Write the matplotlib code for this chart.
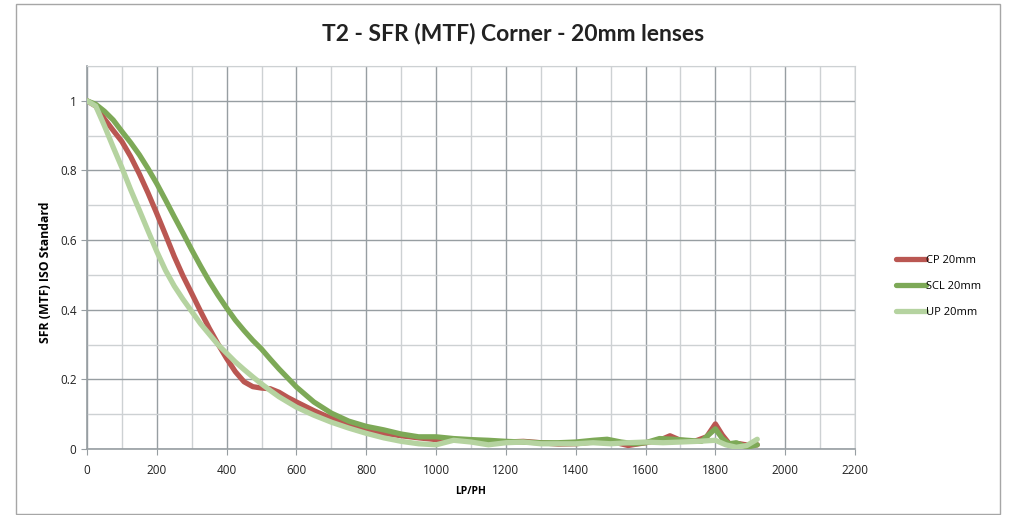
import matplotlib
matplotlib.use("Agg")
import matplotlib.pyplot as plt
from matplotlib.patches import Rectangle
from matplotlib.ticker import MultipleLocator

# LP/PH sample points and SFR values
cp_x = [0, 25, 50, 75, 100, 125, 150, 175, 200, 225, 250, 275, 300, 325, 350, 375,
        400, 425, 450, 475, 500, 525, 550, 575, 600, 650, 700, 750, 800, 850, 900,
        950, 1000, 1050, 1100, 1150, 1200, 1250, 1300, 1350, 1400, 1450, 1500, 1550,
        1600, 1640, 1670, 1700, 1740, 1775, 1800, 1820, 1840, 1870, 1900, 1920]
cp_y = [1.0, 0.985, 0.948, 0.915, 0.883, 0.84, 0.79, 0.735, 0.676, 0.615, 0.553, 0.497,
        0.447, 0.396, 0.347, 0.302, 0.26, 0.222, 0.193, 0.179, 0.175, 0.173, 0.163, 0.148,
        0.135, 0.11, 0.088, 0.068, 0.055, 0.045, 0.038, 0.032, 0.027, 0.025, 0.025,
        0.022, 0.02, 0.022, 0.018, 0.014, 0.015, 0.02, 0.022, 0.01, 0.018, 0.025,
        0.038, 0.025, 0.022, 0.035, 0.072, 0.04, 0.015, 0.015, 0.01, 0.012]

scl_x = [0, 25, 50, 75, 100, 125, 150, 175, 200, 225, 250, 275, 300, 325, 350, 375,
         400, 425, 450, 475, 500, 525, 550, 575, 600, 650, 700, 750, 800, 850, 900,
         950, 1000, 1050, 1100, 1150, 1200, 1250, 1300, 1350, 1400, 1450, 1490, 1530,
         1570, 1600, 1640, 1680, 1720, 1760, 1800, 1820, 1840, 1860, 1890, 1920]
scl_y = [1.0, 0.99, 0.97, 0.945, 0.912, 0.88, 0.845, 0.805, 0.762, 0.715, 0.667, 0.62,
         0.572, 0.526, 0.482, 0.442, 0.405, 0.37, 0.34, 0.312, 0.287, 0.258, 0.23, 0.204,
         0.178, 0.135, 0.103, 0.08, 0.065, 0.055, 0.043, 0.035, 0.035, 0.03, 0.027,
         0.025, 0.022, 0.02, 0.018, 0.018, 0.02, 0.025, 0.028, 0.02, 0.015, 0.018,
         0.03, 0.028, 0.025, 0.022, 0.058, 0.03, 0.015, 0.018, 0.005, 0.012]

up_x = [0, 25, 50, 75, 100, 125, 150, 175, 200, 225, 250, 275, 300, 325, 350, 375,
        400, 425, 450, 475, 500, 525, 550, 575, 600, 650, 700, 750, 800, 850, 900,
        950, 1000, 1050, 1100, 1150, 1200, 1250, 1300, 1350, 1400, 1450, 1500, 1550,
        1600, 1650, 1700, 1750, 1800, 1830, 1860, 1890, 1920]
up_y = [1.0, 0.985, 0.928, 0.867, 0.808, 0.745, 0.686, 0.626, 0.567, 0.513, 0.468, 0.43,
        0.395, 0.36, 0.33, 0.3, 0.275, 0.25, 0.228, 0.207, 0.187, 0.168, 0.15, 0.135,
        0.12, 0.097, 0.077, 0.06, 0.045, 0.032, 0.022, 0.015, 0.012, 0.025, 0.02,
        0.012, 0.018, 0.02, 0.015, 0.015, 0.015, 0.018, 0.015, 0.018, 0.02, 0.018,
        0.02, 0.022, 0.025, 0.012, 0.005, 0.01, 0.028]

series = [
    ("CP 20mm", cp_x, cp_y, "#BA5752"),
    ("SCL 20mm", scl_x, scl_y, "#7DA957"),
    ("UP 20mm", up_x, up_y, "#B5D3A0"),
]

plt.rcParams['font.family'] = ['Open Sans', 'DejaVu Sans']

fig = plt.figure(figsize=(10.09, 5.15), dpi=100)
fig.patches.append(Rectangle((16 / 1009, 1 / 515), 984 / 1009, 510 / 515,
                             transform=fig.transFigure, fill=False,
                             edgecolor="#A6A6A6", linewidth=1.0))

ax = fig.add_axes([87 / 1009, 66 / 515, 768 / 1009, 383 / 515])

for name, xs, ys, col in series:
    ax.plot(xs, ys, color=col, linewidth=3.8, solid_capstyle="round",
            solid_joinstyle="round", label=name, zorder=3)

ax.set_xlim(0, 2200)
ax.set_ylim(0, 1.1)
ax.xaxis.set_major_locator(MultipleLocator(200))
ax.xaxis.set_minor_locator(MultipleLocator(100))
ax.set_yticks([0, 0.2, 0.4, 0.6, 0.8, 1.0])
ax.set_yticklabels(["0", "0.2", "0.4", "0.6", "0.8", "1"])
ax.yaxis.set_minor_locator(MultipleLocator(0.1))

ax.grid(which="major", color="#979EA2", linewidth=1.0, zorder=0)
ax.grid(which="minor", color="#CDD1D3", linewidth=1.0, zorder=0)
ax.set_axisbelow(True)

for side in ["top", "right"]:
    ax.spines[side].set_color("#CDD1D3")
for side in ["left", "bottom"]:
    ax.spines[side].set_color("#979EA2")
    ax.spines[side].set_linewidth(1.2)

ax.tick_params(which="major", length=4, color="#979EA2", labelsize=8.5,
               labelcolor="#222222")
ax.tick_params(which="minor", length=0)
ax.tick_params(axis="x", pad=7)

ax.set_xlabel("LP/PH", fontsize=7.5, fontweight="bold", labelpad=6)
ax.set_ylabel("SFR (MTF) ISO Standard", fontsize=8.8, fontweight="bold")
ax.yaxis.set_label_coords(-0.046, 0.462)

fig.text(0.508, 0.935, "T2 - SFR (MTF) Corner - 20mm lenses", ha="center",
         va="center", fontsize=16.5, fontweight="bold", family=["Lato", "DejaVu Sans"],
         color="#222222")

ax.legend(loc="upper left", bbox_to_anchor=(886 / 1009, 270 / 515),
          bbox_transform=fig.transFigure, frameon=False, fontsize=8,
          handlelength=2.7, handletextpad=0.0, labelspacing=1.35)

fig.savefig("out.png", dpi=100)
